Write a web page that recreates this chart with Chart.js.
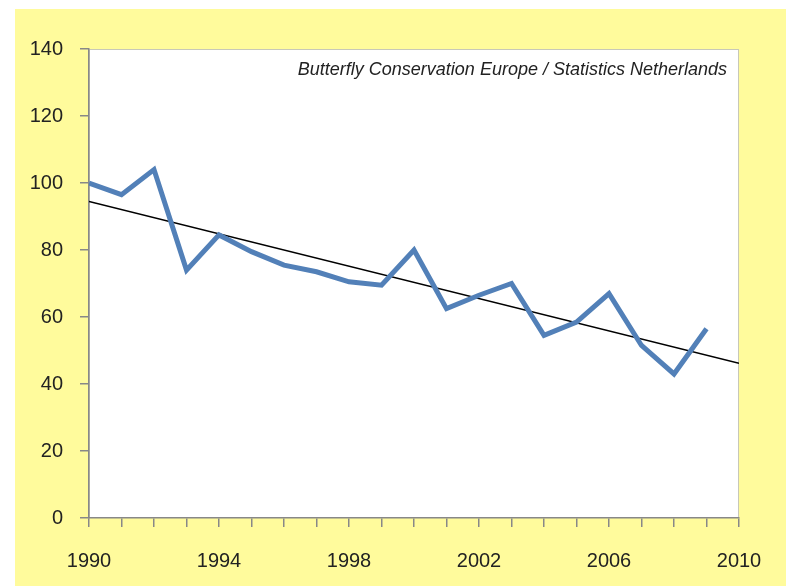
<!DOCTYPE html>
<html>
<head>
<meta charset="utf-8">
<script src="https://cdn.jsdelivr.net/npm/chart.js@4.4.1/dist/chart.umd.min.js"></script>
<style>
  html, body { margin: 0; padding: 0; background: #ffffff; }
  #wrap { position: absolute; left: 15px; top: 9px; width: 771px; height: 577px; background: #fffb9c; }
</style>
</head>
<body>
<div id="wrap"><canvas id="chart" width="771" height="577"></canvas></div>
<script>
// Jahre und Index (1990 = 100)
const years = [1990, 1991, 1992, 1993, 1994, 1995, 1996, 1997, 1998, 1999,
    2000, 2001, 2002, 2003, 2004, 2005, 2006, 2007, 2008, 2009];
const indexValues = [100, 96.5, 104, 74, 84.5, 79.5, 75.5, 73.5, 70.5, 69.5,
    80, 62.5, 66.5, 70, 54.5, 58.5, 67, 51.5, 43, 56.5];

// Trendlinie
const trendYears = [1990, 2010];
const trendValues = [94.5, 46.2];

const yTicks = [0, 20, 40, 60, 80, 100, 120, 140];
const xLabelYears = [1990, 1994, 1998, 2002, 2006, 2010];

const sourceText = "Butterfly Conservation Europe / Statistics Netherlands";

// weisser Plotbereich mit Rahmen und Quellenangabe
const plotArea = {
    id: "plotArea",
    beforeDraw(chart) {
        const { ctx, chartArea: a } = chart;
        ctx.save();
        ctx.fillStyle = "#ffffff";
        ctx.fillRect(a.left, a.top, a.right - a.left, a.bottom - a.top);
        ctx.strokeStyle = "#c8c8b8";
        ctx.lineWidth = 1;
        ctx.strokeRect(a.left + 0.5, a.top + 0.5, a.right - a.left - 1, a.bottom - a.top - 1);
        ctx.restore();
    },
    afterDatasetsDraw(chart) {
        const { ctx, chartArea: a } = chart;
        ctx.save();
        ctx.font = "italic 18px 'Liberation Sans', sans-serif";
        ctx.fillStyle = "#222222";
        ctx.textAlign = "right";
        ctx.textBaseline = "alphabetic";
        ctx.fillText(sourceText, a.right - 12, a.top + 26);
        ctx.restore();
    }
};

const pts = (xs, ys) => xs.map((x, i) => ({ x: x, y: ys[i] }));

new Chart(document.getElementById("chart"), {
    type: "line",
    plugins: [plotArea],
    data: {
        datasets: [
            {
                data: pts(years, indexValues),
                borderColor: "#5280b8",
                borderWidth: 5,
                borderJoinStyle: "miter",
                pointRadius: 0,
                tension: 0,
            },
            {
                data: pts(trendYears, trendValues),
                borderColor: "#000000",
                borderWidth: 1.5,
                pointRadius: 0,
            },
        ],
    },
    options: {
        responsive: false,
        animation: false,
        layout: { padding: { top: 40, right: 47, left: 0, bottom: 0 } },
        plugins: {
            legend: { display: false },
            tooltip: { enabled: false },
        },
        scales: {
            x: {
                type: "linear",
                min: 1990,
                max: 2010,
                afterBuildTicks(scale) {
                    scale.ticks = years.concat([2010]).map(v => ({ value: v }));
                },
                afterFit(scale) { scale.height = 68; },
                grid: { drawOnChartArea: false, color: "#888888", tickLength: 9, lineWidth: 1.5 },
                border: { color: "#888888", width: 1.5 },
                ticks: {
                    autoSkip: false,
                    maxRotation: 0,
                    padding: 22,
                    color: "#222222",
                    font: { family: "'Liberation Sans', sans-serif", size: 20 },
                    callback: v => xLabelYears.includes(v) ? String(v) : "",
                },
            },
            y: {
                min: 0,
                max: 140,
                afterBuildTicks(scale) {
                    scale.ticks = yTicks.map(v => ({ value: v }));
                },
                afterFit(scale) { scale.width = 74; },
                grid: { drawOnChartArea: false, color: "#888888", tickLength: 9, lineWidth: 1.5 },
                border: { color: "#888888", width: 1.5 },
                ticks: {
                    padding: 17,
                    color: "#222222",
                    font: { family: "'Liberation Sans', sans-serif", size: 20 },
                },
            },
        },
    },
});
</script>
</body>
</html>
